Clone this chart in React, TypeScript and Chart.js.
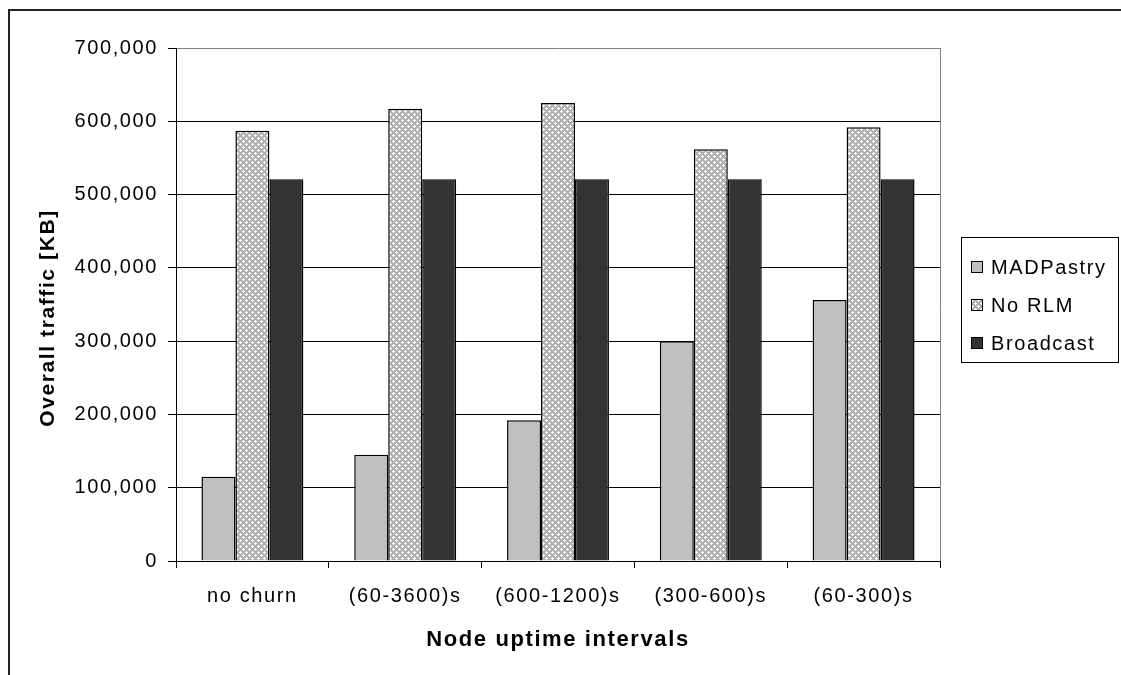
import React, { useEffect, useRef } from "react";
import { Chart, registerables } from "chart.js";

Chart.register(...registerables);

const categories = ["no churn", "(60-3600)s", "(600-1200)s", "(300-600)s", "(60-300)s"];
const madPastry = [115000, 145000, 192000, 300000, 356000];
const noRLM = [587000, 617000, 625000, 562000, 592000];
const broadcast = [521000, 521000, 521000, 521000, 521000];
const seriesNames = ["MADPastry", "No RLM", "Broadcast"];
const yTicks = [0, 100000, 200000, 300000, 400000, 500000, 600000, 700000];
const yTitle = "Overall traffic [KB]";
const xTitle = "Node uptime intervals";

const W = 1113;
const H = 667;
const FONT = "'Liberation Sans', Arial, sans-serif";
const SPACING = "1.6px";

function makePattern(): CanvasPattern | string {
  const c = document.createElement("canvas");
  c.width = 6;
  c.height = 6;
  const g = c.getContext("2d");
  if (!g) return "#c8c8c8";
  g.fillStyle = "#b0b0b0";
  g.fillRect(0, 0, 6, 6);
  g.fillStyle = "#ffffff";
  const pts = [
    [1, 0], [0, 1], [1, 1], [2, 1], [1, 2],
    [4, 3], [3, 4], [4, 4], [5, 4], [4, 5],
  ];
  pts.forEach(([x, y]) => g.fillRect(x, y, 1, 1));
  const p = g.createPattern(c, "repeat");
  return p || "#c8c8c8";
}

export default function App() {
  const ref = useRef<HTMLCanvasElement | null>(null);

  useEffect(() => {
    const canvas = ref.current;
    if (!canvas) return;
    const pattern = makePattern();
    const fills: any[] = ["#c0c0c0", pattern, "#333333"];

    const spacingPlugin = {
      id: "spacing",
      beforeUpdate(chart: any) {
        chart.ctx.letterSpacing = SPACING;
      },
      beforeDraw(chart: any) {
        chart.ctx.letterSpacing = SPACING;
      },
    };

    const decorPlugin = {
      id: "decor",
      afterDraw(chart: any) {
        const ctx = chart.ctx as CanvasRenderingContext2D;
        const { right, top, bottom } = chart.chartArea;
        ctx.save();
        // outer frame (left + top)
        ctx.fillStyle = "#222";
        ctx.fillRect(0, 1, chart.width, 2);
        ctx.fillRect(0, 1, 2, chart.height);
        // plot area right border
        ctx.strokeStyle = "#808080";
        ctx.lineWidth = 1;
        ctx.beginPath();
        ctx.moveTo(Math.round(right) + 0.5, Math.round(top));
        ctx.lineTo(Math.round(right) + 0.5, Math.round(bottom));
        ctx.stroke();
        // y-axis title
        (ctx as any).letterSpacing = SPACING;
        ctx.save();
        ctx.translate(40, 310);
        ctx.rotate(-Math.PI / 2);
        ctx.font = `bold 21px ${FONT}`;
        ctx.fillStyle = "#000";
        ctx.textAlign = "center";
        ctx.textBaseline = "middle";
        ctx.fillText(yTitle, 0, 0);
        ctx.restore();
        // legend box
        const bx = 953, by = 229, bw = 157, bh = 125;
        ctx.fillStyle = "#fff";
        ctx.fillRect(bx, by, bw, bh);
        ctx.strokeStyle = "#000";
        ctx.lineWidth = 1;
        ctx.strokeRect(bx + 0.5, by + 0.5, bw, bh);
        ctx.font = `20px ${FONT}`;
        ctx.textBaseline = "middle";
        ctx.textAlign = "left";
        chart.data.datasets.forEach((ds: any, i: number) => {
          const cy = 259 + i * 38;
          ctx.fillStyle = ds.backgroundColor;
          ctx.fillRect(963, cy - 6, 12, 12);
          ctx.strokeStyle = "#000";
          ctx.lineWidth = 1;
          ctx.strokeRect(963.5, cy - 5.5, 11, 11);
          ctx.fillStyle = "#000";
          ctx.fillText(ds.label, 983, cy + 1);
        });
        ctx.restore();
      },
    };

    const chart = new Chart(canvas, {
      type: "bar",
      data: {
        labels: categories,
        datasets: [madPastry, noRLM, broadcast].map((d, i) => ({
          label: seriesNames[i],
          data: d,
          backgroundColor: fills[i],
          borderColor: "#000",
          borderWidth: 1.5,
          categoryPercentage: 0.667,
          barPercentage: 1,
        })),
      },
      options: {
        animation: false,
        responsive: false,
        devicePixelRatio: 1,
        layout: { padding: { top: 40, right: 181, left: 0, bottom: 8 } },
        plugins: {
          legend: { display: false },
          tooltip: { enabled: false },
        },
        scales: {
          x: {
            offset: true,
            grid: {
              display: true,
              offset: true,
              drawOnChartArea: false,
              drawTicks: true,
              tickLength: 7,
              color: "#000",
            },
            border: { display: true, color: "#000", width: 1 },
            ticks: {
              color: "#000",
              font: { family: FONT, size: 20 },
              padding: 16,
              maxRotation: 0,
              autoSkip: false,
            },
            title: {
              display: true,
              text: xTitle,
              color: "#000",
              font: { family: FONT, size: 22, weight: "bold" },
              padding: { top: 0, bottom: 14 },
            },
            afterFit(scale: any) {
              scale.height = 106;
            },
          },
          y: {
            min: 0,
            max: 700000,
            afterBuildTicks(scale: any) {
              scale.ticks = yTicks.map((v) => ({ value: v }));
            },
            grid: {
              color: (c: any) => (c.tick && c.tick.value === 700000 ? "#808080" : "#000"),
              tickColor: "#000",
              tickLength: 8,
              lineWidth: 1,
            },
            border: { display: true, color: "#000", width: 1 },
            ticks: {
              color: "#000",
              font: { family: FONT, size: 20 },
              padding: 10,
              callback: (v: any) => Number(v).toLocaleString("en-US"),
            },
            title: { display: false },
            afterFit(scale: any) {
              scale.width = 168;
            },
          },
        },
      },
      plugins: [spacingPlugin, decorPlugin],
    } as any);

    return () => chart.destroy();
  }, []);

  return (
    <div style={{ position: "fixed", left: 8, top: 8, width: W, height: H }}>
      <canvas ref={ref} width={W} height={H} style={{ display: "block", width: W, height: H }} />
    </div>
  );
}
